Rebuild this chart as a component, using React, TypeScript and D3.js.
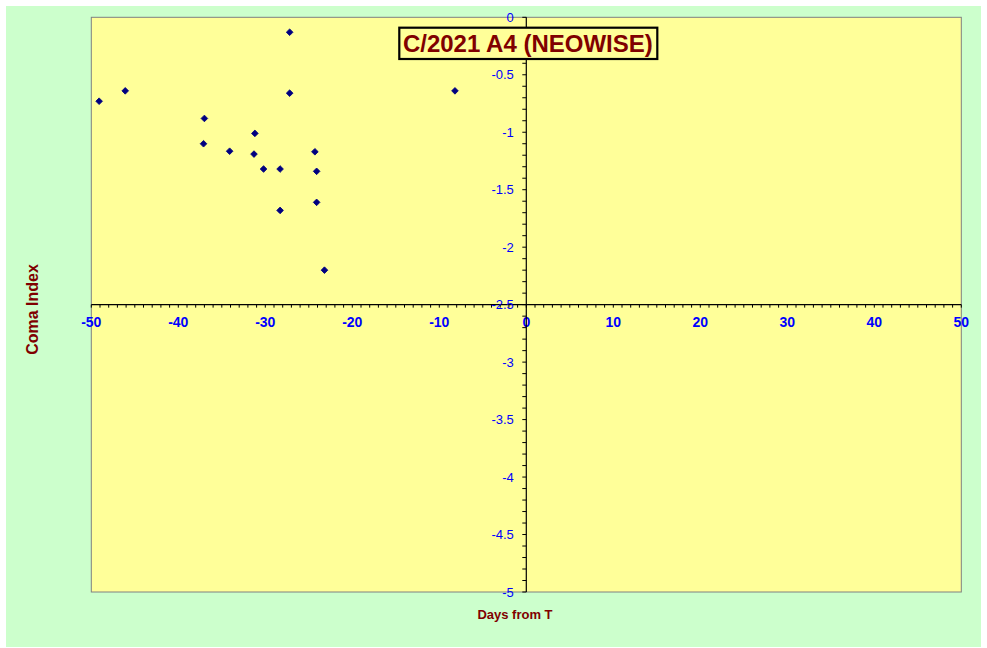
import React from "react";
import * as d3 from "d3";

const days = [-27.2, -46.1, -49.1, -27.2, -37.0, -31.2, -37.1, -34.1, -31.3, -24.3, -30.2, -28.3, -24.1, -24.1, -28.3, -23.2, -8.2];
const comaIndex = [-0.13, -0.64, -0.73, -0.66, -0.88, -1.01, -1.1, -1.165, -1.19, -1.17, -1.32, -1.32, -1.34, -1.61, -1.68, -2.2, -0.64];
const xTicks = [-50, -40, -30, -20, -10, 0, 10, 20, 30, 40, 50];
const yTicks = [0, -0.5, -1, -1.5, -2, -2.5, -3, -3.5, -4, -4.5, -5];
const title = "C/2021 A4 (NEOWISE)";
const xTitle = "Days from T";
const yTitle = "Coma Index";

export default function App() {
  const W = 987, H = 648;
  const left = 91.3, right = 961.3, top = 17.3, bottom = 592;
  const x = d3.scaleLinear().domain([-50, 50]).range([left, right]);
  const y = d3.scaleLinear().domain([-5, 0]).range([bottom, top]);
  const xAxisY = y(-2.5);
  const yAxisX = x(0);
  const xMinor = d3.range(-50, 50.001, 1);
  const yMinor = d3.range(-5, 0.0001, 0.1);
  const marker = d3.symbol().type(d3.symbolSquare).size(22)()!;
  const font = "Arial, 'Liberation Sans', sans-serif";

  return (
    <svg width={W} height={H} style={{ position: "absolute", left: 0, top: 0 }} fontFamily={font}>
      <rect x={0} y={0} width={W} height={H} fill="#ffffff" />
      <rect x={6} y={6} width={975} height={641} fill="#CCFFCC" />
      <rect x={left} y={top} width={right - left} height={bottom - top} fill="#FFFF99" stroke="#808080" strokeWidth={1} />

      {/* x axis */}
      <line x1={left} x2={right} y1={xAxisY} y2={xAxisY} stroke="#000" strokeWidth={1.2} />
      {xMinor.map((v, i) => (
        <line key={"xm" + i} x1={x(v)} x2={x(v)} y1={xAxisY} y2={xAxisY + 3} stroke="#000" strokeWidth={1} />
      ))}
      {xTicks.map((v) => (
        <text key={"xt" + v} x={x(v)} y={xAxisY + 22.5} textAnchor="middle" fill="#0000FF" fontSize={14} fontWeight="bold">
          {String(v)}
        </text>
      ))}

      {/* y axis */}
      <line x1={yAxisX} x2={yAxisX} y1={top} y2={bottom} stroke="#000" strokeWidth={1.2} />
      {yMinor.map((v, i) => (
        <line key={"ym" + i} x1={yAxisX - 4} x2={yAxisX} y1={y(v)} y2={y(v)} stroke="#000" strokeWidth={1} />
      ))}
      {yTicks.map((v) => (
        <text key={"yt" + v} x={yAxisX - 12.5} y={y(v) + 4.5} textAnchor="end" fill="#0000FF" fontSize={13}>
          {String(v)}
        </text>
      ))}

      {/* points */}
      {days.map((d, i) => (
        <path key={"p" + i} d={marker} transform={`translate(${x(d)},${y(comaIndex[i])}) rotate(45)`} fill="#000080" stroke="#000080" strokeWidth={0.8} />
      ))}

      {/* title */}
      <rect x={399.3} y={27.7} width={258} height={31.3} fill="#FFFF99" stroke="#000" strokeWidth={2.2} />
      <text x={527.8} y={52} textAnchor="middle" fill="#800000" fontSize={24} fontWeight="bold">{title}</text>

      {/* axis titles */}
      <text x={515} y={618.5} textAnchor="middle" fill="#800000" fontSize={13} fontWeight="bold">{xTitle}</text>
      <text transform={`translate(38,309.5) rotate(-90)`} textAnchor="middle" fill="#800000" fontSize={16} fontWeight="bold">{yTitle}</text>
    </svg>
  );
}
